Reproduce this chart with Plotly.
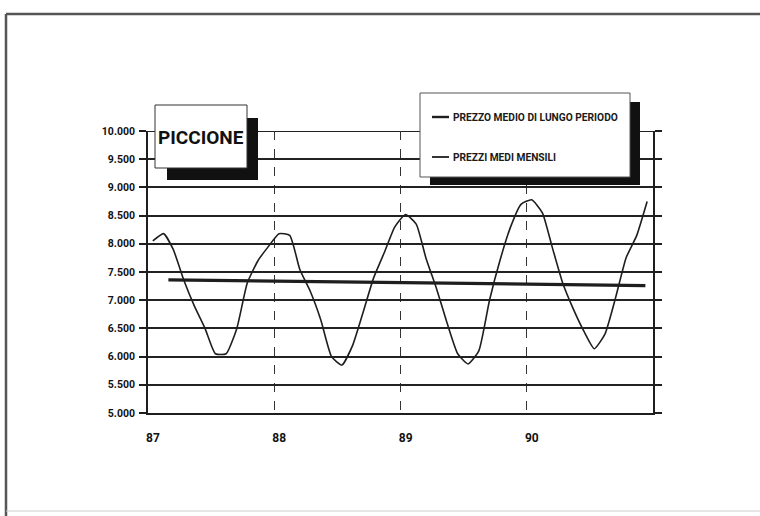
import pandas as pd
import plotly.graph_objects as go

# ---- data ----
month_starts = pd.date_range("1987-01-01", periods=48, freq="MS")
monthly_dates = [d + pd.Timedelta(days=14) for d in month_starts]
monthly_prices = [
    8050, 8180, 7900, 7350, 6900, 6500, 6050, 6050, 6500, 7300, 7700, 7950,
    8180, 8150, 7550, 7150, 6650, 6000, 5850, 6200, 6800, 7400, 7850, 8300,
    8520, 8350, 7750, 7200, 6600, 6050, 5870, 6100, 7000, 7700, 8300, 8700,
    8780, 8550, 7950, 7300, 6850, 6450, 6140, 6400, 7050, 7750, 8150, 8750,
]
mean_dates = ["1987-03-01", "1990-12-10"]
mean_prices = [7360, 7260]

y_tickvals = [5000, 5500, 6000, 6500, 7000, 7500, 8000, 8500, 9000, 9500, 10000]
y_ticktext = ["5.000", "5.500", "6.000", "6.500", "7.000", "7.500", "8.000",
              "8.500", "9.000", "9.500", "10.000"]
x_tickvals = ["1987-01-01", "1988-01-01", "1989-01-01", "1990-01-01"]
x_ticktext = ["87", "88", "89", "90"]

title_text = "PICCIONE"
legend_labels = ["PREZZO MEDIO DI LUNGO PERIODO", "PREZZI MEDI MENSILI"]

# ---- layout geometry (pixels) ----
W, H = 760, 516
L, R, T, B = 148, 653, 131, 413
FONT = "Roboto, Liberation Sans Narrow, DejaVu Sans Condensed, sans-serif"
INK = "#1e1e1e"

def px(x):
    return (x - L) / (R - L)

def py(y):
    return (B - y) / (B - T)

fig = go.Figure()
fig.add_trace(go.Scatter(x=mean_dates, y=mean_prices, mode="lines",
                         line=dict(color=INK, width=3.2), showlegend=False,
                         name=legend_labels[0]))
fig.add_trace(go.Scatter(x=monthly_dates, y=monthly_prices, mode="lines",
                         line=dict(color=INK, width=1.6, shape="spline", smoothing=0.5),
                         showlegend=False, name=legend_labels[1]))

shapes = []
# top gridline at the range edge
shapes.append(dict(type="line", xref="paper", yref="y", x0=0, x1=1,
                   y0=y_tickvals[-1], y1=y_tickvals[-1], line=dict(color="#222", width=1.8),
                   layer="below"))
# outer frame of the scanned page
shapes.append(dict(type="line", xref="paper", yref="paper", x0=px(6), x1=px(760),
                   y0=py(14), y1=py(14), line=dict(color="#555", width=2.5), layer="above"))
shapes.append(dict(type="line", xref="paper", yref="paper", x0=px(6), x1=px(6),
                   y0=py(14), y1=py(516), line=dict(color="#555", width=2.5), layer="above"))
shapes.append(dict(type="line", xref="paper", yref="paper", x0=px(6), x1=px(760),
                   y0=py(511), y1=py(511), line=dict(color="#ccc", width=1), layer="above"))

# title box with shadow
shapes.append(dict(type="rect", xref="paper", yref="paper", x0=px(167), x1=px(258),
                   y0=py(180), y1=py(118), fillcolor="#111", line=dict(width=0), layer="above"))
shapes.append(dict(type="rect", xref="paper", yref="paper", x0=px(155), x1=px(247),
                   y0=py(168), y1=py(105), fillcolor="white", line=dict(color="#333", width=1),
                   layer="above"))
# legend box with shadow
shapes.append(dict(type="rect", xref="paper", yref="paper", x0=px(430), x1=px(640),
                   y0=py(185), y1=py(102), fillcolor="#111", line=dict(width=0), layer="above"))
shapes.append(dict(type="rect", xref="paper", yref="paper", x0=px(420), x1=px(630),
                   y0=py(177), y1=py(93), fillcolor="white", line=dict(color="#555", width=1),
                   layer="above"))
# legend samples
shapes.append(dict(type="line", xref="paper", yref="paper", x0=px(432), x1=px(449),
                   y0=py(117), y1=py(117), line=dict(color=INK, width=2.4), layer="above"))
shapes.append(dict(type="line", xref="paper", yref="paper", x0=px(432), x1=px(449),
                   y0=py(157), y1=py(157), line=dict(color=INK, width=1.8), layer="above"))

annotations = [
    dict(text="<b>" + title_text + "</b>", xref="paper", yref="paper", x=px(201), y=py(137),
         showarrow=False, font=dict(family=FONT, size=19, color="#111"),
         xanchor="center", yanchor="middle"),
    dict(text="<b>" + legend_labels[0] + "</b>", xref="paper", yref="paper", x=px(451), y=py(117),
         showarrow=False, font=dict(family=FONT, size=10.2, color="#1a1a1a"),
         xanchor="left", yanchor="middle"),
    dict(text="<b>" + legend_labels[1] + "</b>", xref="paper", yref="paper", x=px(451), y=py(157),
         showarrow=False, font=dict(family=FONT, size=10.2, color="#1a1a1a"),
         xanchor="left", yanchor="middle"),
]

fig.update_layout(
    width=W, height=H,
    margin=dict(l=L, r=W - R, t=T, b=H - B, pad=0),
    paper_bgcolor="white", plot_bgcolor="white",
    shapes=shapes, annotations=annotations,
    xaxis=dict(type="date", range=["1987-01-01", "1991-01-01"],
               tickvals=x_tickvals, ticktext=["<b>" + t + "</b>" for t in x_ticktext],
               showgrid=True, gridcolor="#333", gridwidth=1.2, griddash="dash",
               showline=True, linecolor=INK, linewidth=2, mirror=False,
               ticks="", ticklabelstandoff=13, ticklabelshift=5,
               tickfont=dict(family=FONT, size=12, color="#111"),
               zeroline=False, fixedrange=True),
    yaxis=dict(range=[5000, 10000], tickvals=y_tickvals,
               ticktext=["<b>" + t + "</b>" for t in y_ticktext],
               showgrid=True, gridcolor="#222", gridwidth=1.8,
               showline=True, linecolor=INK, linewidth=1.8, mirror="ticks",
               ticks="outside", ticklen=7, tickwidth=1.8, tickcolor=INK,
               ticklabelstandoff=2,
               tickfont=dict(family=FONT, size=10.5, color="#111"),
               zeroline=False, fixedrange=True),
    font=dict(family=FONT),
)

fig.write_html("out.html", config={"displayModeBar": False},
               post_script="document.body.style.margin='0';document.body.style.padding='0';")
